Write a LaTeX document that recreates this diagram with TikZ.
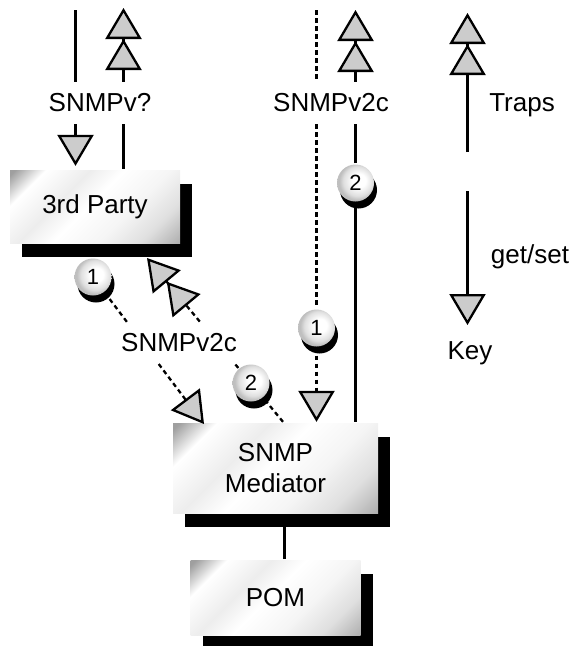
\documentclass[tikz,border=0pt]{standalone}
\usepackage{fontspec}
\setmainfont{Liberation Sans}
\usepackage{tikz}
\usetikzlibrary{arrows.meta,shadows,positioning,calc}
\pgfdeclarehorizontalshading{metal}{100bp}{color(0bp)=(gray!75); color(16bp)=(gray!75); color(25bp)=(white); color(38bp)=(gray!14); color(48bp)=(white); color(62bp)=(gray!8); color(74bp)=(gray!25); color(86bp)=(gray!65); color(100bp)=(gray!65)}
\pgfdeclareradialshading{pearl}{\pgfpoint{6bp}{4bp}}{color(0bp)=(white); color(9bp)=(white); color(20bp)=(gray!25); color(25bp)=(gray!50); color(50bp)=(gray!50)}
\tikzstyle{metalbox} = [rectangle, shading=metal, shading angle=-45, align=center, drop shadow={shadow xshift=12pt, shadow yshift=-14pt, opacity=1, fill=black}]
\tikzstyle{numball} = [circle, minimum size=37pt, inner sep=0pt, shading=pearl, font=\fontsize{22}{22}\selectfont, drop shadow={shadow xshift=3pt, shadow yshift=-7pt, opacity=1, fill=black}]
\tikzstyle{plabel} = [inner sep=11pt]
\tikzstyle{keytext} = [inner sep=0pt]
\tikzstyle{getline} = [-{Triangle[width=36pt, length=31pt, fill=gray!40]}]
\tikzstyle{trapline} = [-{Triangle[width=36pt, length=31pt, fill=gray!40] Triangle[width=36pt, length=31pt, fill=gray!40]}]
\tikzstyle{dots} = [dash pattern=on 4.5pt off 3.5pt]

\begin{document}
\begin{tikzpicture}[x=1pt, y=-1pt, font=\fontsize{26}{31}\selectfont, line width=2.3pt]
    \useasboundingbox (0,0) rectangle (573,646);

    % Nodes
    \node (party) [metalbox, minimum width=170pt, minimum height=73pt] at (95,206.5) {3rd Party};
    \node (med) [metalbox, minimum width=205pt, minimum height=90pt] at (275.5,468) {SNMP\\Mediator};
    \node (pom) [metalbox, minimum width=170pt, minimum height=75pt, below=45pt of med] {POM};

    \node (vq) [plabel] at (100,103) {SNMPv?};
    \node (vtop) [plabel] at (331,103) {SNMPv2c};
    \node (vlow) [plabel] at (179,343) {SNMPv2c};
    \node (traps) [keytext] at (522,105) {Traps};
    \node (getset) [keytext] at (530,257) {get/set};
    \node (key) [keytext] at (470,353) {Key};

    \node (lone) [numball] at (93,277) {1};
    \node (ltwo) [numball] at (251,383) {2};
    \node (mone) [numball] at (316.5,328) {1};
    \node (mtwo) [numball] at (355.5,183) {2};

    % Free ends
    \coordinate (qtop) at (75.5,10);
    \coordinate (qtrap) at (123.5,8);
    \coordinate (ctop) at (316.5,10);
    \coordinate (ctrap) at (355.5,10);
    \coordinate (ktrapfrom) at (467.5,152);
    \coordinate (ktrapto) at (467.5,13);
    \coordinate (kgetfrom) at (467.5,191);
    \coordinate (kgetto) at (467.5,325);
    \coordinate (dgetto) at (204,424);
    \coordinate (dtrapfrom) at ([xshift=7.5pt]med.north);
    \coordinate (dtrapto) at (147,258);

    % Arrows
    \draw (qtop) -- (qtop |- vq.north);
    \draw [getline, shorten >=3pt] (qtop |- vq.south) -- (qtop |- party.north);
    \draw (qtrap |- party.north) -- (qtrap |- vq.south);
    \draw [trapline] (qtrap |- vq.north) -- (qtrap);

    \draw [dots] (ctop) -- (ctop |- vtop.north);
    \draw [dots] (ctop |- vtop.south) -- (mone);
    \draw [getline, dots] (mone) -- (ctop |- med.north);
    \draw (med.north -| ctrap) -- (mtwo);
    \draw (mtwo) -- (ctrap |- vtop.south);
    \draw [trapline] (ctrap |- vtop.north) -- (ctrap);

    \draw [trapline] (ktrapfrom) -- (ktrapto);
    \draw [getline] (kgetfrom) -- (kgetto);

    \draw [dots] (lone) -- ($(lone)!0.306!(dgetto)$);
    \draw [getline, dots] ($(lone)!0.592!(dgetto)$) -- (dgetto);
    \draw [dots] (dtrapfrom) -- (ltwo);
    \draw [dots] (ltwo) -- ($(dtrapfrom)!0.358!(dtrapto)$);
    \draw [trapline, dots] ($(dtrapfrom)!0.612!(dtrapto)$) -- (dtrapto);

    \draw ([xshift=9pt]pom.north) -- ([xshift=9pt]pom.north |- med.south);

\end{tikzpicture}
\end{document}
